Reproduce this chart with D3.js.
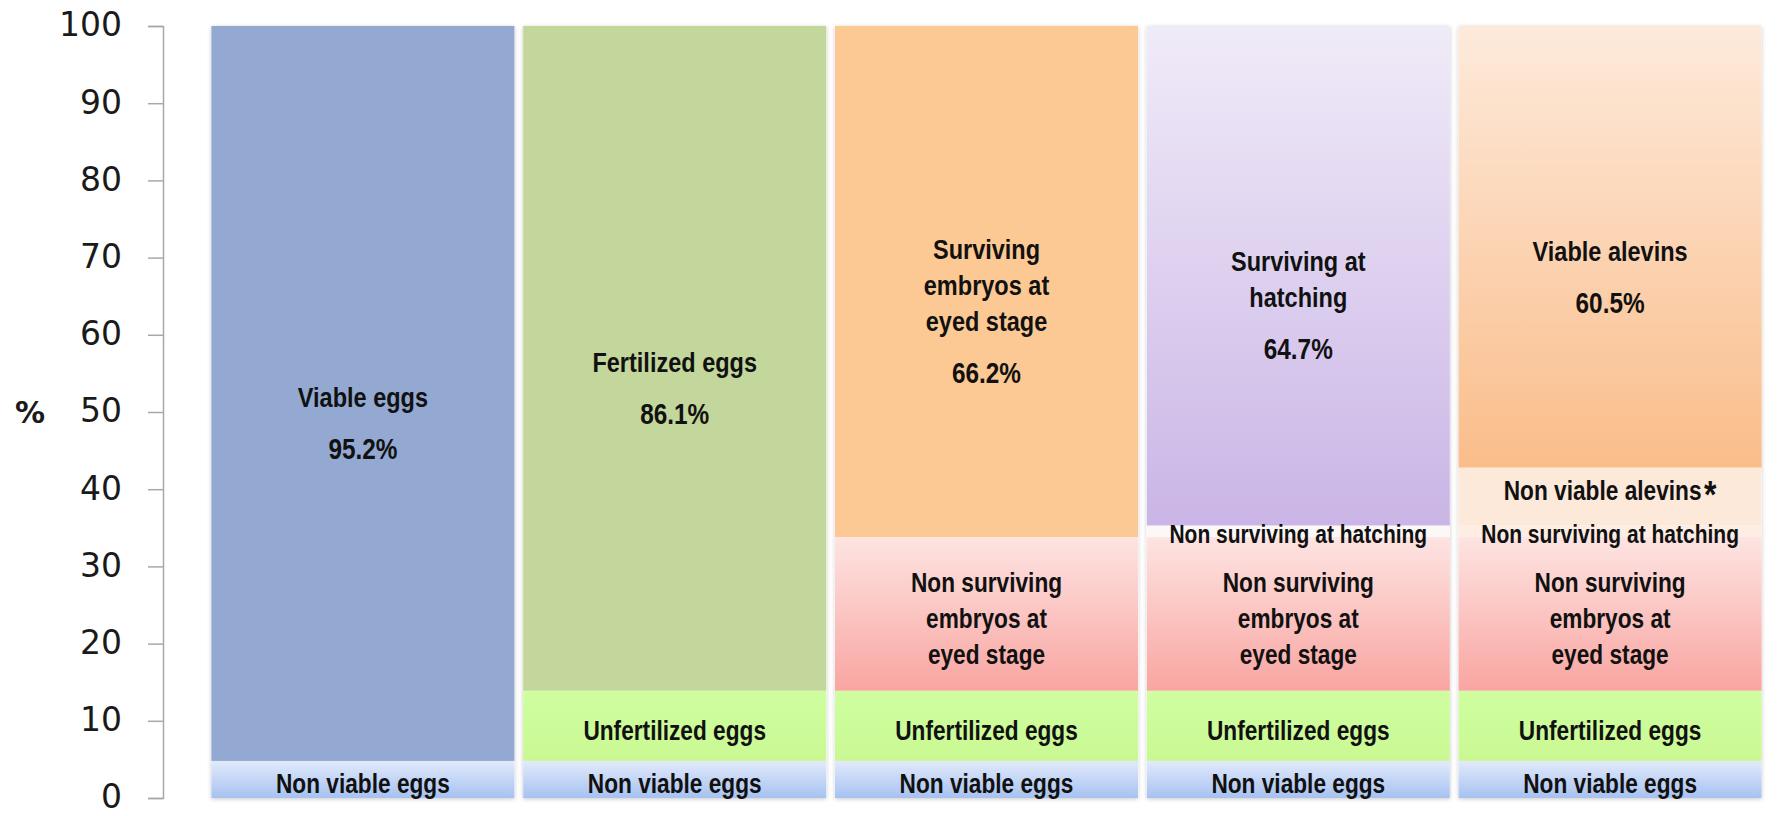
<!DOCTYPE html>
<html>
<head>
<meta charset="utf-8">
<script src="https://cdn.jsdelivr.net/npm/d3@7/dist/d3.min.js"></script>
<style>
  html, body { margin: 0; padding: 0; background: #ffffff; }
  svg { display: block; }
  .seg-label { font-family: "Liberation Sans", Arial, sans-serif; font-weight: bold; fill: #111; }
</style>
</head>
<body>
<svg id="chart" width="1777" height="816"></svg>
<script>
// ---------------- data ----------------
const categories = ["Viable eggs", "Fertilization", "Eyed stage", "Hatching", "Alevins"];
const yTicks = [0, 10, 20, 30, 40, 50, 60, 70, 80, 90, 100];

const nonViableEggs        = [4.8, 4.8, 4.8, 4.8, 4.8];
const unfertilizedEggs     = [0, 9.1, 9.1, 9.1, 9.1];
const nonSurvivingEmbryos  = [0, 0, 19.9, 19.9, 19.9];
const nonSurvivingHatching = [0, 0, 0, 1.5, 1.5];
const nonViableAlevins     = [0, 0, 0, 0, 7.5];
const survivingTop         = [95.2, 86.1, 66.2, 64.7, 57.2];

const topNames    = [["Viable eggs"], ["Fertilized eggs"], ["Surviving", "embryos at", "eyed stage"], ["Surviving at", "hatching"], ["Viable alevins"]];
const topPercents = ["95.2%", "86.1%", "66.2%", "64.7%", "60.5%"];

const seriesKeys = ["nonViableEggs", "unfertilizedEggs", "nonSurvivingEmbryos", "nonSurvivingHatching", "nonViableAlevins", "survivingTop"];
const seriesLabels = {
  nonViableEggs: ["Non viable eggs"],
  unfertilizedEggs: ["Unfertilized eggs"],
  nonSurvivingEmbryos: ["Non surviving", "embryos at", "eyed stage"],
  nonSurvivingHatching: ["Non surviving at hatching"],
  nonViableAlevins: ["Non viable alevins"]
};

// table built from the arrays
const table = categories.map((c, i) => ({
  category: c, index: i,
  nonViableEggs: nonViableEggs[i],
  unfertilizedEggs: unfertilizedEggs[i],
  nonSurvivingEmbryos: nonSurvivingEmbryos[i],
  nonSurvivingHatching: nonSurvivingHatching[i],
  nonViableAlevins: nonViableAlevins[i],
  survivingTop: survivingTop[i]
}));

// ---------------- layout ----------------
const svg = d3.select("#chart");
const x = d3.scaleBand().domain(categories).range([207, 1766]).paddingInner(0.028).paddingOuter(0.014);
const y = d3.scaleLinear().domain([0, 100]).range([798, 26]);

const defs = svg.append("defs");
function vGrad(id, top, bottom) {
  const g = defs.append("linearGradient").attr("id", id).attr("x1", 0).attr("y1", 0).attr("x2", 0).attr("y2", 1);
  g.append("stop").attr("offset", "0%").attr("stop-color", top);
  g.append("stop").attr("offset", "100%").attr("stop-color", bottom);
}
vGrad("gNonViable", "#e2eafb", "#a6c2f1");
vGrad("gUnfert", "#cffea0", "#c9f893");
vGrad("gEmbryo", "#fde4e2", "#f9a5a1");
vGrad("gHatchTop", "#f0ebf8", "#cab5e6");
vGrad("gAlevins", "#fdeadb", "#fabd8a");

const shadow = defs.append("filter").attr("id", "shadow").attr("x", "-5%").attr("y", "-5%").attr("width", "110%").attr("height", "110%");
shadow.append("feDropShadow").attr("dx", 0).attr("dy", 1).attr("stdDeviation", 2).attr("flood-color", "#000").attr("flood-opacity", 0.22);

const topFills = ["#93a9d1", "#c3d69b", "#fcc893", "url(#gHatchTop)", "url(#gAlevins)"];
const hatchFills = ["#fdf7f7", "#fdf7f7", "#fdf7f7", "#fdf8f8", "#fdede3"];
function fillFor(key, i) {
  switch (key) {
    case "nonViableEggs": return "url(#gNonViable)";
    case "unfertilizedEggs": return "url(#gUnfert)";
    case "nonSurvivingEmbryos": return "url(#gEmbryo)";
    case "nonSurvivingHatching": return hatchFills[i];
    case "nonViableAlevins": return "#fde9da";
    case "survivingTop": return topFills[i];
  }
}

const stacked = d3.stack().keys(seriesKeys)(table);

// shadow backing per bar
svg.append("g").selectAll("rect.back").data(table).join("rect")
  .attr("x", d => x(d.category))
  .attr("width", x.bandwidth())
  .attr("y", d => y(d3.sum(seriesKeys, k => d[k])))
  .attr("height", d => y(0) - y(d3.sum(seriesKeys, k => d[k])))
  .attr("fill", "#fff")
  .attr("filter", "url(#shadow)");

const segG = svg.append("g");
stacked.forEach(layer => {
  segG.append("g").selectAll("rect").data(layer.filter(d => d[1] - d[0] > 0)).join("rect")
    .attr("x", d => x(d.data.category))
    .attr("width", x.bandwidth())
    .attr("y", d => y(d[1]))
    .attr("height", d => y(d[0]) - y(d[1]))
    .attr("fill", d => fillFor(layer.key, d.data.index));
});

// ---------------- labels ----------------
const lblG = svg.append("g");
const SX = 0.84; // condensed look
function label(cx, cy, txt, size) {
  return lblG.append("text").attr("class", "seg-label")
    .attr("transform", `translate(${cx},${cy}) scale(${SX},1)`)
    .attr("text-anchor", "middle").attr("dominant-baseline", "central")
    .attr("font-size", size).text(txt);
}
function addLines(cx, cy, lines, lineH, size) {
  const n = lines.length;
  lines.forEach((t, j) => label(cx, cy + (j - (n - 1) / 2) * lineH, t, size));
}
stacked.forEach(layer => {
  layer.forEach(d => {
    if (d[1] - d[0] <= 0) return;
    const cx = x(d.data.category) + x.bandwidth() / 2;
    const mid = y((d[0] + d[1]) / 2);
    const i = d.data.index;
    if (layer.key === "survivingTop") {
      const names = topNames[i];
      const pctGap = 52;
      const total = (names.length - 1) * 36 + pctGap;
      const start = mid + 30 - total / 2;
      names.forEach((t, j) => label(cx, start + j * 36, t, 28));
      label(cx, start + (names.length - 1) * 36 + pctGap, topPercents[i], 29);
    } else if (layer.key === "nonViableAlevins") {
      const t = label(cx, mid - 6, "", 27);
      t.append("tspan").text(seriesLabels[layer.key][0]);
      t.append("tspan").attr("font-size", 38).attr("dy", 3).attr("dx", 3).text("*");
    } else if (layer.key === "nonSurvivingHatching") {
      addLines(cx, mid + 3, seriesLabels[layer.key], 36, 25);
    } else {
      addLines(cx, mid + 4, seriesLabels[layer.key], 36, 27);
    }
  });
});

// ---------------- axis ----------------
const axis = d3.axisLeft(y).tickValues(yTicks).tickSize(15).tickPadding(26).tickFormat(d3.format("d"));
const ax = svg.append("g").attr("transform", "translate(163,0)").call(axis);
ax.select(".domain").attr("stroke", "#a8a8a8").attr("stroke-width", 1.5);
ax.selectAll(".tick line").attr("stroke", "#a8a8a8").attr("stroke-width", 1.5);
ax.selectAll(".tick text").attr("font-size", 33).attr("dy", "0.3em").attr("fill", "#1a1a1a").attr("font-family", "DejaVu Sans, sans-serif");

svg.append("text").attr("x", 30).attr("y", y(50)).attr("dy", "0.36em")
  .attr("text-anchor", "middle").attr("font-family", "DejaVu Sans, sans-serif")
  .attr("font-weight", "bold").attr("font-size", 30).attr("fill", "#1a1a1a").text("%");
</script>
</body>
</html>
